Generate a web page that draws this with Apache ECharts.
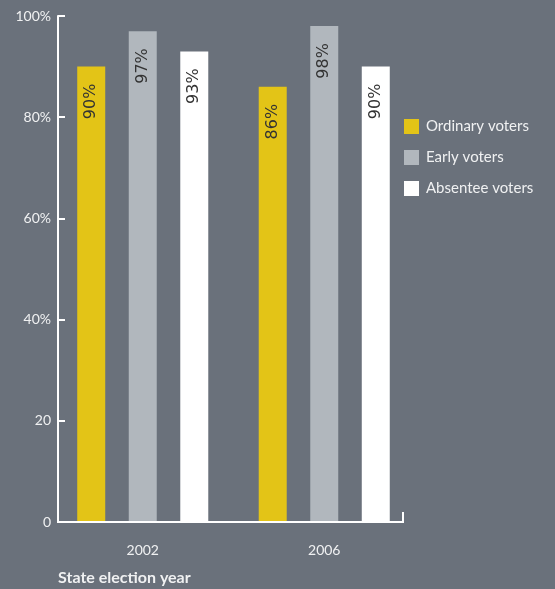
<!DOCTYPE html>
<html>
<head>
<meta charset="utf-8">
<script src="https://cdn.jsdelivr.net/npm/echarts@6/dist/echarts.min.js"></script>
<style>
  html, body { margin: 0; padding: 0; background: #6a717b; }
  #chart { width: 555px; height: 589px; }
</style>
</head>
<body>
<div id="chart"></div>
<script>
// Turnout by voter type, state elections
const years = ['2002', '2006'];
const ordinaryVoters = [90, 86];
const earlyVoters = [97, 98];
const absenteeVoters = [93, 90];
const seriesNames = ['Ordinary voters', 'Early voters', 'Absentee voters'];
const yTickValues = [0, 20, 40, 60, 80, 100];
const yTickLabels = ['0', '20', '40%', '60%', '80%', '100%'];

const textColor = '#f0f1f2';
const labelFont = 'Lato, "Open Sans", sans-serif';

// Plot frame: the vertical axis sits a little inside the grid's left edge,
// and the baseline stops short of the grid's right edge.
const gridLeft = 52;
const gridWidth = 363;
const axisX = 58;
const baselineEnd = 403;

const chart = echarts.init(document.getElementById('chart'));

function barLabel() {
  return {
    show: true,
    position: 'insideTop',
    rotate: 90,
    align: 'right',
    verticalAlign: 'middle',
    distance: 17,
    formatter: '{c}%',
    color: '#333333',
    fontFamily: '"DejaVu Sans", sans-serif',
    fontSize: 16
  };
}

const option = {
  backgroundColor: '#6a717b',
  animation: false,
  grid: { left: gridLeft, top: 16, width: gridWidth, bottom: 67 },
  title: {
    text: 'State election year',
    left: 58,
    top: 570,
    padding: 0,
    textStyle: { color: textColor, fontFamily: labelFont, fontSize: 16, fontWeight: 'bold' }
  },
  legend: {
    orient: 'vertical',
    left: 404,
    top: 119,
    padding: 0,
    itemWidth: 15,
    itemHeight: 15,
    itemGap: 16,
    icon: 'rect',
    data: seriesNames,
    textStyle: { color: textColor, fontFamily: labelFont, fontSize: 15, padding: [0, 0, 0, 2] }
  },
  xAxis: {
    type: 'category',
    data: years,
    axisLine: { show: false },
    axisTick: { show: false },
    axisLabel: { color: textColor, fontFamily: labelFont, fontSize: 14, margin: 21 }
  },
  yAxis: {
    type: 'value',
    min: 0,
    max: 100,
    interval: 20,
    offset: gridLeft - axisX,
    splitLine: { show: false },
    axisLine: { show: true, lineStyle: { color: '#ffffff', width: 2 } },
    axisTick: { show: true, inside: true, length: 7, lineStyle: { color: '#ffffff', width: 2 } },
    axisLabel: {
      color: textColor,
      fontFamily: labelFont,
      fontSize: 14,
      margin: 7,
      formatter: v => yTickLabels[yTickValues.indexOf(v)]
    }
  },
  series: [
    { name: seriesNames[0], type: 'bar', data: ordinaryVoters, barWidth: 28, barGap: '84%',
      itemStyle: { color: '#e3c417' }, label: barLabel() },
    { name: seriesNames[1], type: 'bar', data: earlyVoters, barWidth: 28, barGap: '84%',
      itemStyle: { color: '#b1b7bd' }, label: barLabel() },
    { name: seriesNames[2], type: 'bar', data: absenteeVoters, barWidth: 28, barGap: '84%',
      itemStyle: { color: '#ffffff' }, label: barLabel() }
  ]
};

chart.setOption(option);

// Baseline from the vertical axis to a short upright end tick
const zeroY = chart.convertToPixel({ yAxisIndex: 0 }, 0);
chart.setOption({
  graphic: [
    {
      type: 'polyline',
      shape: { points: [[axisX - 1, zeroY], [baselineEnd, zeroY], [baselineEnd, zeroY - 10]] },
      style: { stroke: '#ffffff', lineWidth: 2, fill: null },
      z: 10
    }
  ]
});
</script>
</body>
</html>
